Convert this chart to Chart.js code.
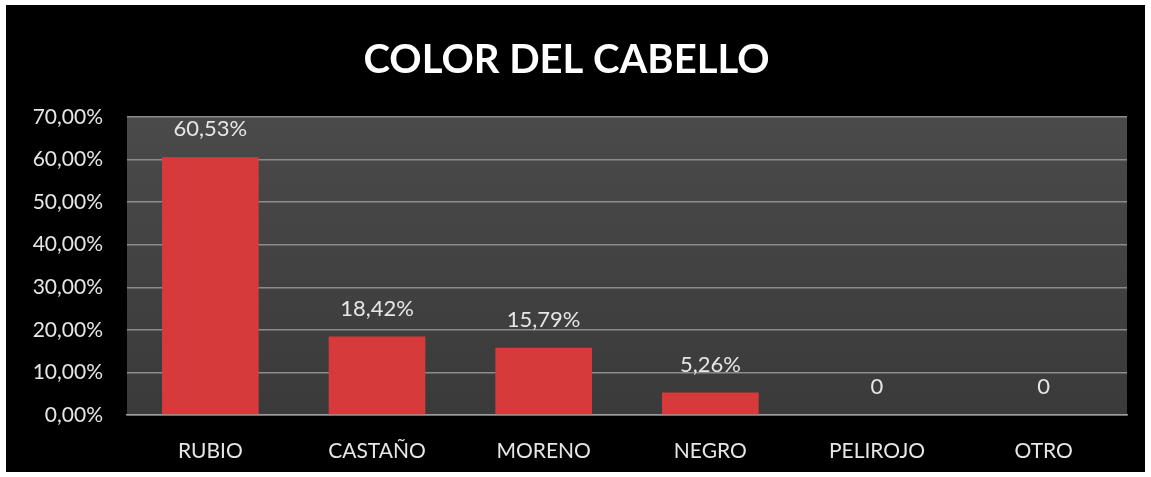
<!DOCTYPE html>
<html>
<head>
<meta charset="utf-8">
<script src="https://cdn.jsdelivr.net/npm/chart.js@4"></script>
<style>
  html, body { margin: 0; padding: 0; background: #fff; }
  #box { position: absolute; left: 6px; top: 5px; width: 1139px; height: 467px; background: #000; }
</style>
</head>
<body>
<div id="box"><canvas id="chart"></canvas></div>
<script>
const categories = ['RUBIO', 'CASTAÑO', 'MORENO', 'NEGRO', 'PELIROJO', 'OTRO'];
const percentages = [60.53, 18.42, 15.79, 5.26, 0, 0];
const valueLabels = ['60,53%', '18,42%', '15,79%', '5,26%', '0', '0'];

function formatPercent(v) {
    return v.toFixed(2).replace('.', ',') + '%';
}

// gray background behind the plot area
const plotBackground = {
    id: 'plotBackground',
    beforeDraw(chart) {
        const { ctx, chartArea: a } = chart;
        const g = ctx.createLinearGradient(0, a.top, 0, a.bottom);
        g.addColorStop(0, '#4a4a4a');
        g.addColorStop(1, '#3a3a3a');
        ctx.save();
        ctx.fillStyle = g;
        ctx.fillRect(a.left, a.top, a.right - a.left, a.bottom - a.top);
        ctx.restore();
    }
};

// value labels above the bars
const valueText = {
    id: 'valueText',
    afterDatasetsDraw(chart) {
        const { ctx } = chart;
        const meta = chart.getDatasetMeta(0);
        ctx.save();
        ctx.fillStyle = '#e6e6e6';
        ctx.font = '22px Lato';
        ctx.textAlign = 'center';
        ctx.textBaseline = 'middle';
        meta.data.forEach((bar, i) => {
            ctx.fillText(valueLabels[i], bar.x, bar.y - 28);
        });
        ctx.restore();
    }
};

function barFill(context) {
    const chart = context.chart;
    const el = chart.getDatasetMeta(0).data[context.dataIndex];
    if (!chart.chartArea || !el || !el.width) return '#d63a3a';
    const left = el.x - el.width / 2;
    const g = chart.ctx.createLinearGradient(left, 0, left + el.width, 0);
    g.addColorStop(0, '#e8503f');
    g.addColorStop(0.5, '#d83a36');
    g.addColorStop(1, '#c9302e');
    return g;
}

new Chart(document.getElementById('chart'), {
    type: 'bar',
    data: {
        labels: categories,
        datasets: [{
            data: percentages,
            backgroundColor: barFill,
            borderWidth: 0,
            categoryPercentage: 1,
            barPercentage: 0.58
        }]
    },
    options: {
        responsive: true,
        maintainAspectRatio: false,
        animation: false,
        layout: { padding: { left: 0, right: 18, top: 0, bottom: 11 } },
        plugins: {
            legend: { display: false },
            tooltip: { enabled: false },
            title: {
                display: true,
                text: 'COLOR DEL CABELLO',
                color: '#ffffff',
                font: { family: 'Lato', size: 40, weight: 'bold', lineHeight: 1.2 },
                padding: { top: 31, bottom: 33 }
            }
        },
        scales: {
            x: {
                afterFit(axis) { axis.height = 46; },
                grid: { display: false, drawTicks: false },
                border: { color: '#9a9a9a', width: 1.5 },
                ticks: { color: '#e6e6e6', font: { family: 'Lato', size: 21 }, padding: 24 }
            },
            y: {
                min: 0,
                max: 70,
                afterFit(axis) { axis.width = 121; },
                grid: { color: '#8c8c8c', lineWidth: 1.5, drawTicks: false },
                border: { display: false },
                ticks: {
                    stepSize: 10,
                    color: '#e6e6e6',
                    font: { family: 'Lato', size: 21 },
                    padding: 24,
                    callback: v => formatPercent(v)
                }
            }
        }
    },
    plugins: [plotBackground, valueText]
});
</script>
</body>
</html>
